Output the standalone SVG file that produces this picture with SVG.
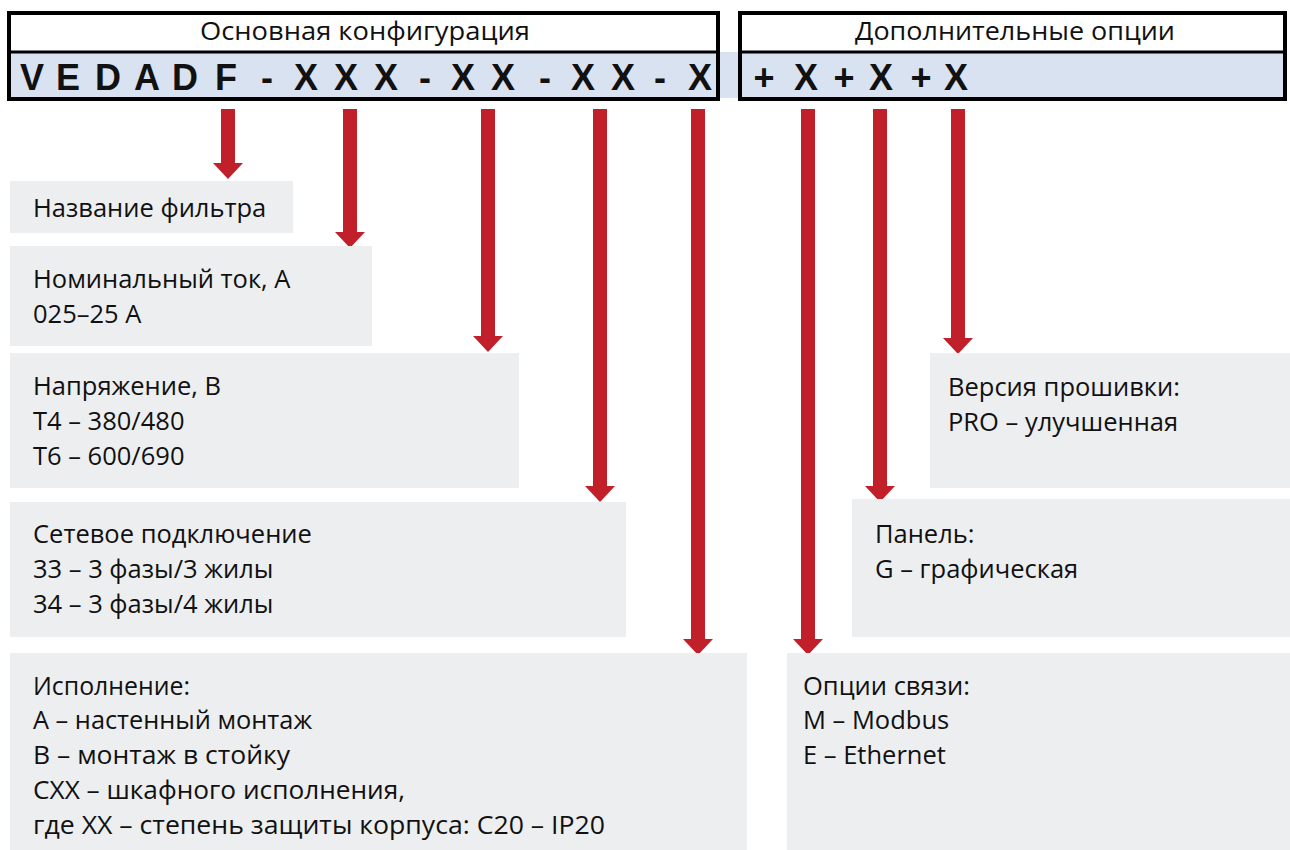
<svg xmlns="http://www.w3.org/2000/svg" width="1290" height="850" viewBox="0 0 1290 850">
<defs>
<style>
.box{fill:#EDEEF0}
.t{font-family:"Open Sans","Noto Sans","Liberation Sans",sans-serif;font-size:25.5px;fill:#111}
.h{font-family:"Open Sans","Noto Sans","Liberation Sans",sans-serif;font-size:25px;fill:#111;text-anchor:middle}
.code{font-family:"Liberation Sans","Open Sans",sans-serif;font-weight:bold;font-size:36px;fill:#111;text-anchor:middle}
.frame{fill:none;stroke:#000;stroke-width:4}
.arr{fill:#C1202A}
</style>
</defs>
<rect x="0" y="0" width="1290" height="850" fill="#fff"/>
<g id="header">
<rect x="9" y="52" width="1276" height="46" fill="#D9E2F0"/>
<rect class="frame" x="9" y="13" width="709" height="86"/>
<line x1="9" y1="52" x2="718" y2="52" stroke="#000" stroke-width="3"/>
<rect class="frame" x="740" y="13" width="545" height="86"/>
<line x1="740" y1="52" x2="1285" y2="52" stroke="#000" stroke-width="3"/>
<text class="h" x="365" y="40" textLength="330" lengthAdjust="spacingAndGlyphs">Основная конфигурация</text>
<text class="h" x="1015" y="40" textLength="320" lengthAdjust="spacingAndGlyphs">Дополнительные опции</text>
<text class="code" x="32 68 108 147 185 226 267 306 346 386 425 463 503 545 583 623 660 700" y="90">VEDADF-XXX-XX-XX-X</text>
<text class="code" x="764 806 844 881 921 956" y="90">+X+X+X</text>
</g>
<g id="connectors">
<path class="arr" d="M221 109h14v54h8l-15 16l-15-16h8z"/>
<path class="arr" d="M343 109h14v123h8l-15 16l-15-16h8z"/>
<path class="arr" d="M481 109h14v227h8l-15 16l-15-16h8z"/>
<path class="arr" d="M593 109h14v377h8l-15 16l-15-16h8z"/>
<path class="arr" d="M691 109h14v530h8l-15 16l-15-16h8z"/>
<path class="arr" d="M801 109h14v530h8l-15 16l-15-16h8z"/>
<path class="arr" d="M873 109h14v377h8l-15 16l-15-16h8z"/>
<path class="arr" d="M951 109h14v229h8l-15 16l-15-16h8z"/>
</g>
<g id="node-name">
<rect class="box" x="10" y="181" width="283" height="52"/>
<text class="t" x="33" y="217">Название фильтра</text>
</g>
<g id="node-current">
<rect class="box" x="10" y="246" width="362" height="100"/>
<text class="t" x="33" y="288">Номинальный ток, А</text>
<text class="t" x="33" y="323">025–25 A</text>
</g>
<g id="node-voltage">
<rect class="box" x="10" y="353" width="509" height="135"/>
<text class="t" x="33" y="395">Напряжение, В</text>
<text class="t" x="33" y="430">T4 – 380/480</text>
<text class="t" x="33" y="465">T6 – 600/690</text>
</g>
<g id="node-network">
<rect class="box" x="10" y="502" width="616" height="135"/>
<text class="t" x="33" y="543">Сетевое подключение</text>
<text class="t" x="33" y="578">33 – 3 фазы/3 жилы</text>
<text class="t" x="33" y="613">34 – 3 фазы/4 жилы</text>
</g>
<g id="node-design">
<rect class="box" x="10" y="653" width="737" height="197"/>
<text class="t" x="33" y="695" textLength="157" lengthAdjust="spacingAndGlyphs">Исполнение:</text>
<text class="t" x="33" y="729" textLength="279" lengthAdjust="spacingAndGlyphs">A – настенный монтаж</text>
<text class="t" x="33" y="764" textLength="257" lengthAdjust="spacingAndGlyphs">B – монтаж в стойку</text>
<text class="t" x="33" y="799" textLength="372" lengthAdjust="spacingAndGlyphs">CXX – шкафного исполнения,</text>
<text class="t" x="33" y="834" textLength="572" lengthAdjust="spacingAndGlyphs">где XX – степень защиты корпуса: C20 – IP20</text>
</g>
<g id="node-comm">
<rect class="box" x="787" y="653" width="503" height="197"/>
<text class="t" x="803" y="695">Опции связи:</text>
<text class="t" x="803" y="729">M – Modbus</text>
<text class="t" x="803" y="764">E – Ethernet</text>
</g>
<g id="node-panel">
<rect class="box" x="852" y="499" width="438" height="138"/>
<text class="t" x="875" y="543">Панель:</text>
<text class="t" x="875" y="578">G – графическая</text>
</g>
<g id="node-firmware">
<rect class="box" x="930" y="353" width="360" height="135"/>
<text class="t" x="948" y="396">Версия прошивки:</text>
<text class="t" x="948" y="431">PRO – улучшенная</text>
</g>
</svg>
